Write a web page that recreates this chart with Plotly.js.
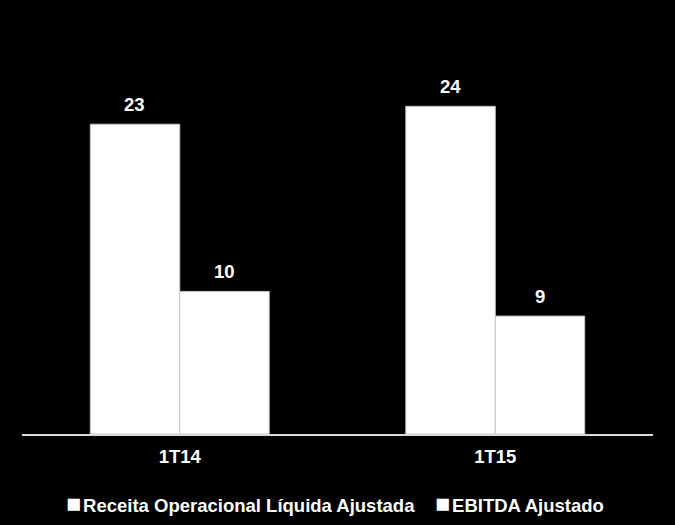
<!DOCTYPE html>
<html>
<head>
<meta charset="utf-8">
<script src="https://cdn.plot.ly/plotly-3.0.1.min.js"></script>
<style>html,body{margin:0;padding:0;background:#000;}#chart{width:675px;height:525px;}</style>
</head>
<body>
<div id="chart"></div>
<script>
const categories = ['1T14', '1T15'];
const seriesNames = ['Receita Operacional Líquida Ajustada', 'EBITDA Ajustado'];
const receita = [22.6, 23.9];
const ebitda = [10.4, 8.6];
const receitaLabels = ['23', '24'];
const ebitdaLabels = ['10', '9'];

const font = {family: 'Liberation Sans, Arial, sans-serif', size: 18.5, color: '#ffffff', weight: 'bold'};
const barLine = {color: '#c8c8c8', width: 1};

const traces = [
  {type: 'bar', name: seriesNames[0], x: categories, y: receita,
   marker: {color: '#ffffff', line: barLine}, hoverinfo: 'none'},
  {type: 'bar', name: seriesNames[1], x: categories, y: ebitda,
   marker: {color: '#ffffff', line: barLine}, hoverinfo: 'none'}
];

const annotations = [];
const half = 45;
categories.forEach((c, i) => {
  annotations.push({x: i, y: receita[i], xref: 'x', yref: 'y', text: receitaLabels[i],
    showarrow: false, xshift: -half, yanchor: 'bottom', yshift: 7, font: font});
  annotations.push({x: i, y: ebitda[i], xref: 'x', yref: 'y', text: ebitdaLabels[i],
    showarrow: false, xshift: half, yanchor: 'bottom', yshift: 7, font: font});
});
// legend drawn as text entries with a small square glyph
const legendX = [0.066, 0.652];
seriesNames.forEach((n, i) => {
  annotations.push({xref: 'paper', yref: 'paper', x: legendX[i], y: -0.167,
    xanchor: 'left', yanchor: 'middle', showarrow: false,
    text: '<span style="font-size:25px">■</span><span style="font-size:7px"> </span>' + n, font: font});
});

const layout = {
  width: 675, height: 525,
  paper_bgcolor: '#000000', plot_bgcolor: '#000000',
  margin: {l: 22, r: 22, t: 20, b: 91},
  barmode: 'group', bargap: 0.433, bargroupgap: 0,
  font: font,
  xaxis: {type: 'category', showline: true, linecolor: '#d9d9d9', linewidth: 1.5,
    ticks: '', tickfont: font, showgrid: false, zeroline: false, ticklabelstandoff: 5,
    automargin: false},
  yaxis: {range: [0, 30.2], visible: false, showgrid: false, zeroline: false, automargin: false},
  showlegend: false,
  annotations: annotations
};

Plotly.newPlot('chart', traces, layout, {displayModeBar: false, staticPlot: true});
</script>
</body>
</html>
